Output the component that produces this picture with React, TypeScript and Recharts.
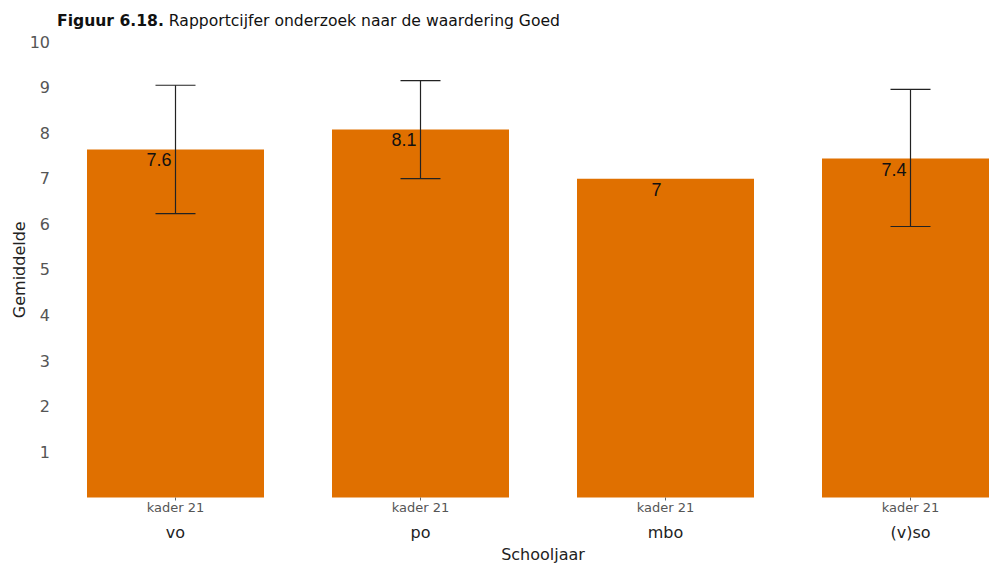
import React from 'react'
import { ComposedChart, Bar, XAxis, YAxis, ErrorBar, LabelList, Label } from 'recharts'

// categories and values
const schoolTypes = ['vo', 'po', 'mbo', '(v)so']
const subLabels = ['kader 21', 'kader 21', 'kader 21', 'kader 21']
const means = [7.64, 8.08, 7.0, 7.44]
const lowerBounds = [6.23, 7.0, null, 5.95]
const upperBounds = [9.05, 9.15, null, 8.96]
const yTicks = [1, 2, 3, 4, 5, 6, 7, 8, 9, 10]

const ORANGE = '#e07000'
const AXIS_FONT = '"DejaVu Sans", Verdana, sans-serif'

const chartData = schoolTypes.map((name, i) => {
  const lo = lowerBounds[i]
  const hi = upperBounds[i]
  return {
    name,
    sub: subLabels[i],
    mean: means[i],
    err: lo != null && hi != null ? [means[i] - lo, hi - means[i]] : null,
  }
})

function formatMean(v: number): string {
  return String(Number(v.toFixed(1)))
}

function CategoryTick(props: any) {
  const { x, y, payload, index } = props
  return (
    <g>
      <text
        x={x}
        y={y + 9}
        textAnchor="middle"
        fontSize={13}
        fill="#555"
        fontFamily={AXIS_FONT}
      >
        {chartData[index]?.sub}
      </text>
      <text
        x={x}
        y={y + 35}
        textAnchor="middle"
        fontSize={16}
        fill="#222"
        fontFamily={AXIS_FONT}
      >
        {payload.value}
      </text>
    </g>
  )
}

// value label sits just left of the error bar, right-aligned
function MeanLabel(props: any) {
  const { x, y, width, value } = props
  return (
    <text
      x={x + width / 2 - 4}
      y={y + 17}
      textAnchor="end"
      fontSize={18}
      fill="#111"
      fontFamily='"Liberation Sans", Arial, sans-serif'
    >
      {formatMean(value)}
    </text>
  )
}

export default function App() {
  return (
    <div
      style={{
        position: 'fixed',
        left: 0,
        top: 0,
        width: 989,
        height: 563,
        overflow: 'hidden',
        background: '#fff',
      }}
    >
      {/* Title */}
      <div
        style={{
          position: 'absolute',
          left: 57,
          top: 12,
          fontFamily: AXIS_FONT,
          fontSize: 15.6,
          color: '#111',
          whiteSpace: 'nowrap',
          zIndex: 1,
        }}
      >
        <b>Figuur 6.18.</b> Rapportcijfer onderzoek naar de waardering Goed
      </div>

      <div style={{ position: 'absolute', left: 0, top: 0 }}>
        <ComposedChart
          width={1040}
          height={563}
          data={chartData}
          margin={{ top: 42, right: 7, bottom: 0, left: 0 }}
        >
          <XAxis
            dataKey="name"
            height={65.5}
            axisLine={false}
            tickLine={{ stroke: '#666' }}
            tickSize={3}
            tick={<CategoryTick />}
            interval={0}
          >
            <Label
              content={({ viewBox }: any) => (
                <text
                  x={viewBox.x + viewBox.width / 2}
                  y={560}
                  textAnchor="middle"
                  fontSize={16}
                  fill="#222"
                  fontFamily={AXIS_FONT}
                >
                  Schooljaar
                </text>
              )}
            />
          </XAxis>
          <YAxis
            width={53}
            domain={[0, 10]}
            ticks={yTicks}
            axisLine={false}
            tickLine={false}
            tickSize={0}
            tickMargin={3}
            tick={{ fontSize: 16, fill: '#555', fontFamily: AXIS_FONT }}
          >
            <Label
              content={({ viewBox }: any) => {
                const cy = viewBox.y + viewBox.height / 2
                return (
                  <text
                    x={19}
                    y={cy}
                    transform={`rotate(-90, 19, ${cy})`}
                    textAnchor="middle"
                    dominantBaseline="central"
                    fontSize={16}
                    fill="#222"
                    fontFamily={AXIS_FONT}
                  >
                    Gemiddelde
                  </text>
                )
              }}
            />
          </YAxis>

          <Bar dataKey="mean" fill={ORANGE} barSize={177} isAnimationActive={false}>
            <LabelList dataKey="mean" content={<MeanLabel />} />
            <ErrorBar dataKey="err" width={20} stroke="#222" strokeWidth={1.2} />
          </Bar>
        </ComposedChart>
      </div>
    </div>
  )
}
